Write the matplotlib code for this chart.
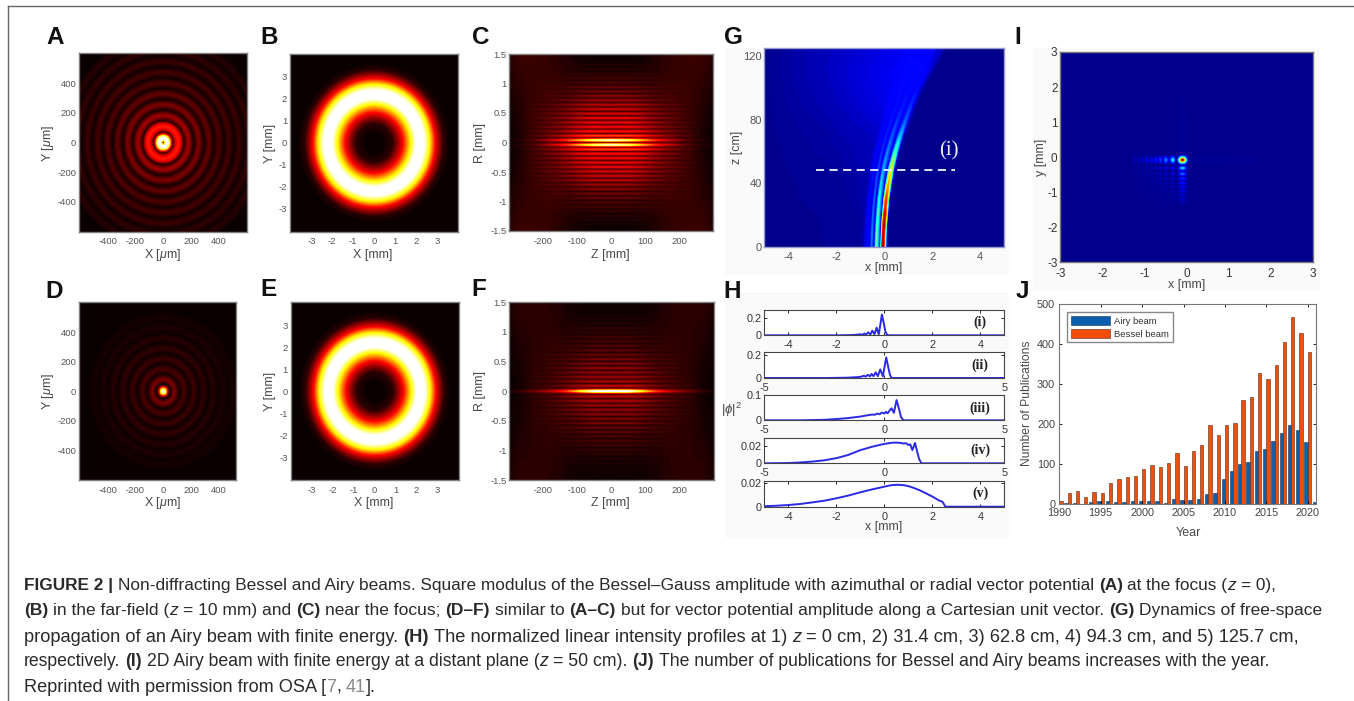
import numpy as np
import matplotlib
matplotlib.use('Agg')
import matplotlib.pyplot as plt
from matplotlib.patches import Rectangle

plt.rcParams['font.family'] = ['Liberation Sans', 'DejaVu Sans']
plt.rcParams['mathtext.fontset'] = 'custom'
plt.rcParams['mathtext.rm'] = 'Liberation Sans'
plt.rcParams['mathtext.it'] = 'Liberation Sans:italic'
plt.rcParams['axes.unicode_minus'] = False

W = 1354
H = 701

a_r = [0, 6, 14, 28, 42, 55, 70, 90, 108, 126, 145, 182, 218, 255, 291, 328, 364, 400, 436, 472, 508, 545, 581, 618, 654, 690, 726, 900]
a_v = [.06, .25, .75, 1.05, .8, .35, .01, .30, .40, .30, .01, .22, .005, .17, .005, .13, .005, .10, .005, .085, .005, .07, .005, .055, .005, .04, .005, 0]
b_r = [0, .5, .9, 1.15, 1.4, 1.75, 2.0, 2.2, 2.4, 2.65, 2.9, 3.1, 3.3, 3.6, 5.8]
b_v = [0, .005, .05, .2, .37, .72, .98, 1.05, .98, .72, .37, .2, .05, 0, 0]
d_r = [0, 15, 28, 42, 50, 80, 115, 150, 185, 220, 255, 290, 325, 360, 395, 430, 465, 500, 540, 900]
d_v = [1.05, .75, .3, .04, .005, .16, .003, .09, .003, .07, .003, .055, .003, .04, .003, .03, .003, .02, 0, 0]

# panels C and F: stripes on R>=0 and brightness along |Z|
z_abs = [0, 50, 90, 130, 180, 230, 270, 300]
c_pos = [.04, .115, .19, .265, .34, .415, .49, .565, .64, .715, .79, .865, .94, 1.015, 1.09, 1.165, 1.24, 1.315, 1.39, 1.465]
c_amp = [0, .42, .34, .32, .31, .30, .28, .26, .24, .20, .17, .14, .12, .10, .08, .06, .04, .03, .02, .01]
c_mix = [0, 0, 0, .1, .1, .2, .2, .3, .3, .4, .5, .5, .6, .7, .7, .8, .9, .9, 1, 1]
c_core = [.95, .85, .65, .42, .25, .1, .04, .01]
c_env = [1, 1, .85, .55, .25, .08, .02, 0]
c_env_far = [1, .9, .55, .25, .08, .02, 0, 0]
c_near = [.03, .04, .05, .06, .07, .06, .02, 0]
c_far = [0, 0, .01, .03, .06, .07, .07, .04]

f_pos = [0, .09, .165, .24, .315, .39, .465, .54, .615, .69, .765, .84, .915, .99, 1.065, 1.14, 1.215, 1.29, 1.365, 1.44]
f_amp = [0, .24, .22, .20, .19, .18, .16, .15, .13, .11, .10, .09, .08, .065, .05, .04, .03, .02, .015, .01]
f_mix = [0, 0, 0, .1, .1, .2, .2, .3, .3, .4, .5, .5, .6, .7, .7, .8, .9, .9, 1, 1]
f_core = [1.05, 1.0, .75, .45, .25, .14, .06, .02]
f_env = [1, 1, .8, .5, .2, .08, .02, 0]
f_env_far = [1, .9, .5, .2, .06, .02, 0, 0]
f_near = [.01, .02, .03, .04, .05, .04, .01, 0]
f_far = [0, 0, .005, .02, .045, .05, .05, .02]

# panel G: lobe tracks against z
g_z = [0, 10, 20, 30, 40, 50, 60, 70, 80, 90, 100, 110, 125]
g_main = [-.05, -.03, .02, .08, .18, .30, .47, .67, .90, 1.13, 1.40, 1.75, 2.30]
g_main_v = [.98, .97, .93, .85, .72, .60, .42, .30, .20, .15, .12, .10, .05]
g_lob2 = [-.33, -.31, -.27, -.22, -.14, -.03, .13, .32, .55, .80, 1.05, 1.35, 1.80]
g_lob2_v = [.45, .45, .42, .38, .33, .28, .24, .20, .16, .13, .12, .12, .10]
g_lob3 = [-.53, -.51, -.47, -.42, -.34, -.24, -.10, .08, .30, .52, .75, 1.0, 1.40]
g_lob3_v = [.22, .22, .21, .20, .19, .17, .15, .14, .13, .12, .12, .12, .11]
g_lob4 = [-.70, -.68, -.65, -.60, -.52, -.42, -.30, -.12, .05, .25, .45, .70, 1.0]
g_lob4_v = [.11, .11, .11, .11, .10, .10, .10, .10, .10, .11, .11, .11, .11]
g_gap_v = [.02, .02, .02, .03, .03, .04, .05, .06, .08, .10, .11, .12, .11]
g_wash = [-1.0, -1.2, -1.4, -1.6, -1.8, -2.0, -2.2, -2.4, -2.5, -2.6, -2.7, -2.8, -2.9]

# panel I: spots along the two axes
i_x = [-3, -1.3, -1.23, -1.18, -1.13, -1.08, -1.03, -.98, -.94, -.88, -.83, -.78, -.73, -.68, -.62, -.56, -.49, -.41, -.325, -.25, -.225, -.19, -.15, -.095, -.04, 0, .035, 3]
i_xv = [0, 0, .035, 0, .045, 0, .06, 0, .08, 0, .1, 0, .14, 0, .18, 0, .25, .01, .36, .01, .01, .25, .65, 1, .65, .25, .01, 0]
i_y = [-3, -1.35, -1.29, -1.24, -1.19, -1.13, -1.08, -1.02, -.97, -.91, -.85, -.8, -.74, -.68, -.61, -.55, -.48, -.4, -.31, -.24, -.21, -.18, -.13, -.08, -.03, .02, .06, 3]
i_yv = [0, 0, .035, 0, .045, 0, .06, 0, .08, 0, .1, 0, .12, 0, .16, 0, .22, .01, .32, .01, .01, .25, .65, 1, .65, .25, .01, 0]

# panel H: line profiles
h1_x = [-5, -2, -1.5, -1.2, -1.0, -.9, -.83, -.76, -.67, -.58, -.5, -.41, -.32, -.23, -.1, -.02, .05, .12, .2, 5]
h1_y = [0, 0, .002, .005, .012, .006, .022, .008, .035, .01, .055, .012, .09, .01, .247, .14, .04, .005, 0, 0]
h2_x = [-5, -2.5, -2, -1.5, -1.1, -.95, -.85, -.78, -.68, -.6, -.53, -.45, -.36, -.27, -.17, -.06, .08, .16, .24, .3, 5]
h2_y = [0, 0, .001, .003, .008, .012, .02, .012, .028, .014, .036, .016, .05, .016, .076, .015, .182, .1, .025, 0, 0]
h3_x = [-5, -3.5, -3, -2.5, -2, -1.5, -1, -.7, -.5, -.4, -.3, -.2, -.1, 0, .07, .14, .22, .3, .4, .51, .6, .7, .8, 5]
h3_y = [0, 0, .001, .002, .005, .009, .015, .02, .023, .022, .027, .024, .031, .027, .034, .028, .039, .048, .03, .081, .05, .012, 0, 0]
h4_x = [-5, -4, -3.5, -3, -2.5, -2, -1.5, -1, -.5, 0, .3, .5, .7, .8, .9, 1, 1.08, 1.17, 1.28, 1.38, 1.45, 1.55, 5]
h4_y = [0, .0003, .001, .002, .0035, .006, .0098, .0154, .0195, .0227, .024, .0243, .0238, .0232, .0236, .0215, .0222, .0155, .0238, .0125, .005, 0, 0]
h5_x = [-5, -4.5, -4, -3.5, -3, -2.5, -2, -1.5, -1, -.5, 0, .3, .55, .8, 1, 1.25, 1.5, 1.75, 2, 2.3, 2.42, 2.55, 5]
h5_y = [.0004, .0008, .0014, .0023, .0036, .005, .007, .0093, .012, .0145, .0167, .018, .0183, .018, .0172, .0155, .0135, .011, .0085, .005, .0042, 0, 0]
h_tags = ['(i)', '(ii)', '(iii)', '(iv)', '(v)']

# panel J
years = list(range(1990, 2022))
airy = [0, 2, 4, 1, 5, 9, 7, 6, 5, 7, 7, 7, 9, 3, 13, 10, 10, 14, 26, 28, 62, 82, 100, 105, 134, 137, 159, 179, 197, 186, 155, 5]
bessel = [8, 27, 34, 17, 30, 29, 52, 64, 67, 70, 89, 98, 92, 102, 127, 96, 134, 148, 197, 172, 199, 202, 260, 267, 327, 313, 348, 405, 467, 428, 379, 0]

cap_lines = [
    [("FIGURE 2 | ", 'b'), ("Non-diffracting Bessel and Airy beams. Square modulus of the Bessel\u2013Gauss amplitude with azimuthal or radial vector potential ", ''),
     ("(A)", 'b'), (" at the focus (", ''), ("z", 'i'), (" = 0),", '')],
    [("(B)", 'b'), (" in the far-field (", ''), ("z", 'i'), (" = 10 mm) and ", ''), ("(C)", 'b'), (" near the focus; ", ''), ("(D\u2013F)", 'b'), (" similar to ", ''),
     ("(A\u2013C)", 'b'), (" but for vector potential amplitude along a Cartesian unit vector. ", ''), ("(G)", 'b'), (" Dynamics of free-space", '')],
    [("propagation of an Airy beam with finite energy. ", ''), ("(H)", 'b'), (" The normalized linear intensity profiles at 1) ", ''), ("z", 'i'),
     (" = 0 cm, 2) 31.4 cm, 3) 62.8 cm, 4) 94.3 cm, and 5) 125.7 cm,", '')],
    [("respectively. ", ''), ("(I)", 'b'), (" 2D Airy beam with finite energy at a distant plane (", ''), ("z", 'i'), (" = 50 cm). ", ''), ("(J)", 'b'),
     (" The number of publications for Bessel and Airy beams increases with the year.", '')],
    [("Reprinted with permission from OSA [", ''), ("7", 'g'), (", ", ''), ("41", 'g'), ("].", '')],
]
cap_y = [584, 609, 635, 660, 685]
cap_end = [1277, 1322, 1302, 1277, 379]

fig = plt.figure(figsize=(W/100, H/100), dpi=100)
GREY = '#4a4a4a'


def box(l, t, r, b):
    return fig.add_axes([l/W, 1-b/H, (r-l)/W, (b-t)/H])


def ptext(x, y, s, **kw):
    kw.setdefault('ha', 'center')
    kw.setdefault('va', 'center')
    kw.setdefault('color', GREY)
    return fig.text(x/W, 1-y/H, s, **kw)


def dress(ax, col='#808080', size=6.8):
    for s in ax.spines.values():
        s.set_color(col)
        s.set_linewidth(1)
    ax.tick_params(length=0, labelsize=size, labelcolor='#555555', pad=2)
    ax.tick_params(axis='x', pad=4)


def hot_panel(ax, X, Y, Z):
    ax.set_facecolor('black')
    ax.contourf(X, Y, Z, levels=np.linspace(-.001, 1, 129), cmap='hot', vmin=0, vmax=1, extend='max')


def rings(ax, r, v):
    r = np.array(r)
    t = np.linspace(0, 2*np.pi, 241)
    X = np.outer(r, np.cos(t))
    Y = np.outer(r, np.sin(t))
    Z = np.tile(np.array(v)[:, None], (1, t.size))
    hot_panel(ax, X, Y, Z)


def stripes(ax, pos, amp, mix, core, env, env_far, near, far):
    # troughs half way between stripes, centre stripe(s) use their own profile
    rr, aa, mm = [], [], []
    if pos[0] > 0:
        rr.append(0.)
        aa.append(0.)
        mm.append(0.)
    for i in range(len(pos)):
        rr.append(pos[i])
        aa.append(amp[i])
        mm.append(mix[i])
        nxt = pos[i+1] if i+1 < len(pos) else 1.5
        rr.append((pos[i]+nxt)/2)
        aa.append(0.)
        mm.append(mix[i])
    if rr[-1] < 1.5:
        rr.append(1.5)
        aa.append(0.)
        mm.append(1.)
    rr, aa, mm = np.array(rr), np.array(aa), np.array(mm)
    Z = np.outer(aa*(1-mm), env) + np.outer(aa*mm, env_far) + np.outer(1-mm, near) + np.outer(mm, far)
    Z[rr == pos[0], :] = core
    R = np.concatenate([-rr[::-1], rr[1:]]) if rr[0] == 0 else np.concatenate([-rr[::-1], rr])
    Z = np.vstack([Z[::-1], Z[1:]])
    z = np.array(z_abs, float)
    zz = np.concatenate([-z[::-1], z[1:]])
    Z = np.hstack([Z[:, ::-1], Z[:, 1:]])
    hot_panel(ax, zz, R, Z)


# frame and faint panel backings
fig.add_artist(plt.Line2D([8/W, 8/W], [0, 1-6/H], color='#666666', lw=1))
fig.add_artist(plt.Line2D([8/W, 1], [1-6/H, 1-6/H], color='#666666', lw=1))
for l, t, r, b in [(725, 48, 1009, 275), (725, 292, 1009, 538), (1033, 48, 1320, 290)]:
    fig.add_artist(Rectangle((l/W, 1-b/H), (r-l)/W, (b-t)/H, transform=fig.transFigure, color='#fafafa', lw=0, zorder=-1))

# A
ax = box(79, 53.3, 247, 231.7)
rings(ax, a_r, a_v)
ax.set_xlim(-605, 601)
ax.set_ylim(-600, 600)
ax.set_xticks([-400, -200, 0, 200, 400])
ax.set_yticks([-400, -200, 0, 200, 400])
dress(ax)
ptext(163, 255, r'X [$\mu$m]', fontsize=9)
ptext(48, 143, r'Y [$\mu$m]', fontsize=9, rotation=90)

# B
ax = box(290, 54, 458.3, 231.7)
rings(ax, b_r, b_v)
ax.set_xlim(-4.02, 4.03)
ax.set_ylim(-4.04, 4.04)
ax.set_xticks([-3, -2, -1, 0, 1, 2, 3])
ax.set_yticks([-3, -2, -1, 0, 1, 2, 3])
dress(ax)
ptext(373, 255, 'X [mm]', fontsize=9)
ptext(270, 143, 'Y [mm]', fontsize=9, rotation=90)

# C
ax = box(509.3, 54, 713.3, 231)
stripes(ax, c_pos, c_amp, c_mix, c_core, c_env, c_env_far, c_near, c_far)
ax.set_xlim(-299, 301)
ax.set_ylim(-1.5, 1.5)
ax.set_xticks([-200, -100, 0, 100, 200])
ax.set_yticks([-1.5, -1, -.5, 0, .5, 1, 1.5])
ax.set_yticklabels(['-1.5', '-1', '-0.5', '0', '0.5', '1', '1.5'])
dress(ax)
ptext(610, 255, 'Z [mm]', fontsize=9)
ptext(480, 143, 'R [mm]', fontsize=9, rotation=90)

# D
ax = box(79, 302.3, 236, 480)
rings(ax, d_r, d_v)
ax.set_xlim(-606, 522)
ax.set_ylim(-601, 603)
ax.set_xticks([-400, -200, 0, 200, 400])
ax.set_yticks([-400, -200, 0, 200, 400])
dress(ax)
ptext(163, 503, r'X [$\mu$m]', fontsize=9)
ptext(48, 391, r'Y [$\mu$m]', fontsize=9, rotation=90)

# E
ax = box(290.7, 302.3, 459, 480)
rings(ax, b_r, b_v)
ax.set_xlim(-4.02, 4.03)
ax.set_ylim(-4.04, 4.04)
ax.set_xticks([-3, -2, -1, 0, 1, 2, 3])
ax.set_yticks([-3, -2, -1, 0, 1, 2, 3])
dress(ax)
ptext(374, 503, 'X [mm]', fontsize=9)
ptext(270, 391, 'Y [mm]', fontsize=9, rotation=90)

# F
ax = box(509.3, 302.3, 714, 480)
stripes(ax, f_pos, f_amp, f_mix, f_core, f_env, f_env_far, f_near, f_far)
ax.set_xlim(-299, 301)
ax.set_ylim(-1.5, 1.5)
ax.set_xticks([-200, -100, 0, 100, 200])
ax.set_yticks([-1.5, -1, -.5, 0, .5, 1, 1.5])
ax.set_yticklabels(['-1.5', '-1', '-0.5', '0', '0.5', '1', '1.5'])
dress(ax)
ptext(610, 503, 'Z [mm]', fontsize=9)
ptext(480, 391, 'R [mm]', fontsize=9, rotation=90)

# G
ax = box(764.3, 48, 1004.3, 246.7)
main = np.array(g_main)
lob2 = np.array(g_lob2)
lob3 = np.array(g_lob3)
lob4 = np.array(g_lob4)
gap = np.array(g_gap_v)
n = len(g_z)
gx = np.column_stack([np.full(n, -5.), g_wash, lob4-.18, lob4, (lob3+lob4)/2, lob3, (lob2+lob3)/2, lob2,
                      (main+lob2)/2+.02, main-.05, main, main+.05, main+.14, main+.3, np.full(n, 5.)])
gv = np.column_stack([np.zeros(n), gap*.3, gap*.8, g_lob4_v, gap, g_lob3_v, gap, g_lob2_v,
                      gap, np.array(g_main_v)*.85, g_main_v, np.array(g_main_v)*.8, gap*.4, np.zeros(n), np.zeros(n)])
gz = np.tile(np.array(g_z, float)[:, None], (1, gx.shape[1]))
ax.contourf(gx, gz, gv, levels=np.linspace(-.012, 1, 129), cmap='jet', vmin=-.012, vmax=1, extend='max')
ax.plot([-2.85, 2.95], [48, 48], color='#f4f4f4', lw=1.3, dashes=(4.5, 3))
ax.text(2.68, 60, '(i)', color='#f0f0f0', family='Liberation Serif', fontsize=15, ha='center', va='center')
ax.set_xlim(-5, 5)
ax.set_ylim(0, 125)
ax.set_xticks([-4, -2, 0, 2, 4])
ax.set_yticks([0, 40, 80, 120])
dress(ax, col='#9a9ad0', size=8)
ptext(884, 268, 'x [mm]', fontsize=9)
ptext(737, 147, 'z [cm]', fontsize=9, rotation=90)

# H
h_boxes = [(310, 335.3), (352, 378), (395.3, 420.3), (437.7, 463.3), (480.7, 506.7)]
h_lims = [.3, .23, .1, .03, .0217]
h_yticks = [[0, .2], [0, .2], [0, .1], [0, .02], [0, .02]]
h_ylabels = [['0', '0.2'], ['0', '0.2'], ['0', '0.1'], ['0', '0.02'], ['0', '0.02']]
h_xticks = [[-4, -2, 0, 2, 4], [-5, 0, 5], [-5, 0, 5], [-5, 0, 5], [-4, -2, 0, 2, 4]]
h_xs = [h1_x, h2_x, h3_x, h4_x, h5_x]
h_ys = [h1_y, h2_y, h3_y, h4_y, h5_y]
for i in range(5):
    ax = box(764.3, h_boxes[i][0], 1004.3, h_boxes[i][1])
    ax.plot(h_xs[i], h_ys[i], color='#2a2ae6', lw=1.4)
    ax.set_xlim(-5, 5)
    ax.set_ylim(0, h_lims[i])
    ax.set_xticks(h_xticks[i])
    ax.set_yticks(h_yticks[i])
    ax.set_yticklabels(h_ylabels[i])
    for s in ax.spines.values():
        s.set_color('#444444')
    ax.tick_params(direction='in', top=True, right=True, length=2, width=.6, labelsize=7.8, labelcolor='#333333', pad=2)
    ax.tick_params(axis='x', pad=3.5)
    ax.text(.9, .5, h_tags[i], transform=ax.transAxes, family='Liberation Serif', fontweight='bold', fontsize=10,
            color='#222222', ha='center', va='center')
ptext(732, 410, r'$|\phi|^2$', fontsize=9.5)
ptext(884, 527, 'x [mm]', fontsize=9)

# I
ax = box(1060.3, 52, 1312.7, 262.3)
ax.contourf(i_x, i_y, np.outer(i_yv, i_xv), levels=np.linspace(-.012, 1, 129), cmap='jet', vmin=-.012, vmax=1, extend='max')
ax.set_xlim(-3, 3)
ax.set_ylim(-3, 3)
ax.set_xticks([-3, -2, -1, 0, 1, 2, 3])
ax.set_yticks([-3, -2, -1, 0, 1, 2, 3])
dress(ax, col='#777777', size=8.5)
ax.tick_params(labelcolor='#333333')
ptext(1187, 285, 'x [mm]', fontsize=9)
ptext(1041, 157, 'y [mm]', fontsize=9, rotation=90)

# J
ax = box(1059.3, 304, 1316, 504.3)
yr = np.array(years)
ax.bar(yr-.2, airy, width=.4, color='#0b5fae', edgecolor='#16324f', lw=.4, label='Airy beam')
ax.bar(yr+.2, bessel, width=.4, color='#f04e0a', edgecolor='#5a2a14', lw=.4, label='Bessel beam')
ax.set_xlim(1990, 2021)
ax.set_ylim(0, 500)
ax.set_xticks([1990, 1995, 2000, 2005, 2010, 2015, 2020])
ax.set_yticks([0, 100, 200, 300, 400, 500])
for s in ax.spines.values():
    s.set_color('#777777')
ax.tick_params(direction='in', top=True, right=True, length=2, width=.6, labelsize=7.8, labelcolor='#444444', pad=3)
ax.legend(loc='upper left', bbox_to_anchor=(.03, .96), fontsize=6.8, fancybox=False, edgecolor='#888888', framealpha=1,
          handlelength=4.2, handleheight=1.1, labelspacing=.35, handletextpad=.4, borderpad=.4, borderaxespad=0, labelcolor='#333333')
ptext(1188, 533, 'Year', fontsize=9)
ptext(1027, 403, 'Number of Publications', fontsize=8.7, rotation=90)

# panel letters
for s, x, y in [('A', 55.5, 37), ('B', 269, 37), ('C', 481, 38), ('D', 54.5, 291), ('E', 268, 290), ('F', 479, 290),
                ('G', 733.5, 37), ('H', 732, 291), ('I', 1018, 37), ('J', 1022, 291)]:
    ptext(x, y, s, fontsize=17.5, fontweight='bold', color='#111111')

# caption, one run after the other so bold and italic can sit in a line
rend = fig.canvas.get_renderer()


def run_style(flag):
    kw = {'color': '#2a2a2a'}
    if flag == 'b':
        kw['fontweight'] = 'bold'
    if flag == 'i':
        kw['style'] = 'italic'
    if flag == 'g':
        kw['color'] = '#8a8a8a'
    return kw


def run_width(s, size, flag):
    t = fig.text(0, 0, '|'+s+'|', fontsize=size, **run_style(flag))
    w = t.get_window_extent(rend).width
    t.set_text('||')
    w -= t.get_window_extent(rend).width
    t.remove()
    return w


base = 11.4
for runs, y, end in zip(cap_lines, cap_y, cap_end):
    total = sum(run_width(s, base, f) for s, f in runs)
    size = base*(end-24)/total
    x = 24
    for s, f in runs:
        lead = len(s)-len(s.lstrip())
        ptext(x+run_width(s[:lead], size, f), y, s.strip(), fontsize=size, ha='left', va='center_baseline', **run_style(f))
        x += run_width(s, size, f)

fig.savefig('out.png', dpi=100)
